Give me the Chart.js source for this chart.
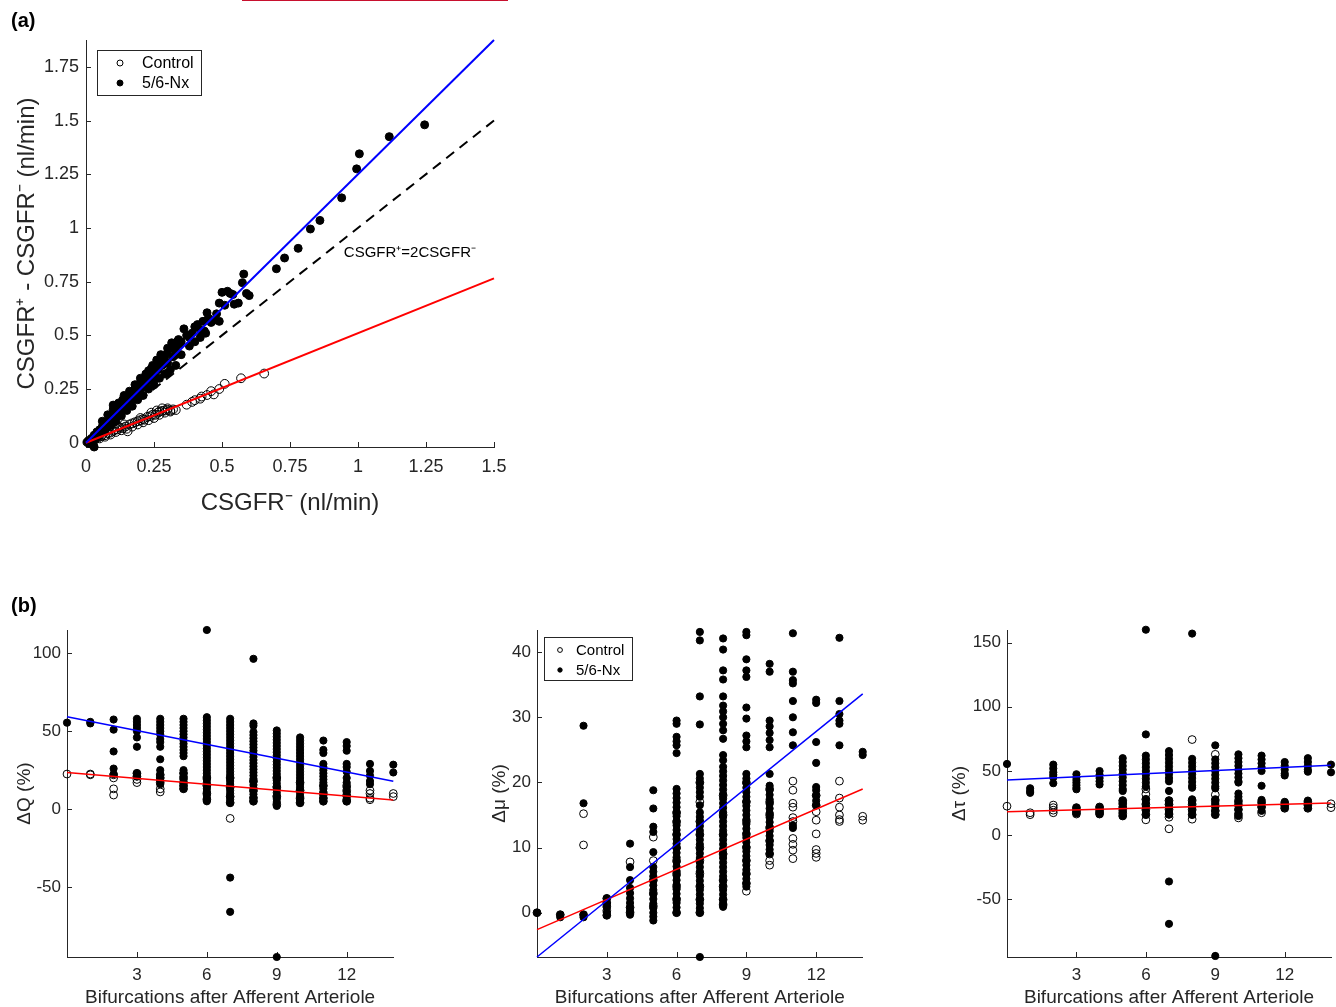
<!DOCTYPE html>
<html lang="en">
<head>
<meta charset="UTF-8" />
<title>CSGFR and bifurcation changes</title>
<script src="https://cdn.jsdelivr.net/npm/chart.js"></script>
<style>
body { margin: 0; background: #fff; font-family: 'Liberation Sans', Arial, sans-serif; }
#fig { position: relative; width: 1336px; height: 1007px; overflow: hidden; }
canvas { position: absolute; }
.tag { position: absolute; font-weight: bold; font-size: 20px; line-height: 20px; color: #000; }
.topline { position: absolute; left: 242px; top: 0; width: 266px; height: 1px; background: #c8102e; }
</style>
</head>
<body>
<div id="fig">
  <div class="topline"></div>
  <canvas id="chart-a" width="520" height="530" style="left:0;top:0"></canvas>
  <canvas id="chart-q" width="420" height="407" style="left:0;top:600px"></canvas>
  <canvas id="chart-mu" width="420" height="407" style="left:470px;top:600px"></canvas>
  <canvas id="chart-tau" width="396" height="407" style="left:940px;top:600px"></canvas>
  <div class="tag" style="left:11px;top:10px">(a)</div>
  <div class="tag" style="left:11px;top:595px">(b)</div>
</div>

<script>
// ---------- panel (a): CSGFR+ - CSGFR- vs CSGFR- ----------
const legendLabels = ['Control', '5/6-Nx'];

const aNx = [
  [0.005,0.003],[0.01,0.01],[0.015,-0.005],[0.02,0.02],[0.025,-0.01],[0.03,-0.02],[0.03,0.035],[0.035,0.02],
  [0.04,0.05],[0.045,0.03],[0.05,0.06],[0.055,0.045],[0.06,0.075],[0.065,0.06],[0.07,0.09],[0.075,0.07],
  [0.08,0.1],[0.085,0.08],[0.09,0.115],[0.095,0.095],[0.1,0.13],[0.1,0.175],[0.105,0.11],[0.11,0.145],
  [0.115,0.125],[0.12,0.16],[0.125,0.14],[0.13,0.175],[0.135,0.2],[0.14,0.165],[0.145,0.19],[0.15,0.215],
  [0.155,0.18],[0.16,0.205],[0.165,0.23],[0.17,0.2],[0.175,0.22],[0.18,0.25],[0.185,0.23],[0.19,0.265],
  [0.195,0.245],[0.2,0.28],[0.205,0.255],[0.21,0.29],[0.215,0.27],[0.22,0.3],[0.225,0.285],[0.23,0.335],
  [0.235,0.3],[0.24,0.32],[0.245,0.36],[0.25,0.33],[0.255,0.35],[0.26,0.37],[0.265,0.34],[0.27,0.385],
  [0.275,0.41],[0.28,0.36],[0.285,0.39],[0.29,0.4],[0.3,0.42],[0.3,0.37],[0.31,0.44],[0.315,0.465],
  [0.32,0.4],[0.3,0.325],[0.26,0.3],[0.33,0.44],[0.335,0.47],[0.345,0.46],[0.35,0.47],[0.36,0.53],
  [0.37,0.5],[0.38,0.49],[0.39,0.51],[0.4,0.54],[0.41,0.55],[0.42,0.525],[0.43,0.565],[0.435,0.52],
  [0.445,0.605],[0.45,0.58],[0.47,0.57],[0.49,0.65],[0.49,0.565],[0.5,0.7],[0.52,0.705],[0.53,0.695],
  [0.545,0.645],[0.56,0.65],[0.575,0.745],[0.58,0.785],[0.59,0.695],[0.6,0.685],[0.7,0.81],[0.73,0.86],
  [0.78,0.905],[0.825,0.995],[0.86,1.035],[0.94,1.14],[0.995,1.275],[1.005,1.345],[1.115,1.425],[1.245,1.48],
  [0.06,0.1],[0.08,0.13],[0.1,0.155],[0.12,0.185],[0.14,0.22],[0.16,0.24],[0.18,0.27],[0.2,0.3],
  [0.22,0.32],[0.24,0.345],[0.26,0.385],[0.28,0.4],[0.3,0.44],[0.32,0.46],[0.34,0.48],[0.33,0.41],
  [0.05,0.04],[0.07,0.06],[0.09,0.08],[0.11,0.1],[0.13,0.125],[0.15,0.15],[0.17,0.17],[0.19,0.2],
  [0.21,0.22],[0.23,0.25],[0.25,0.27],[0.27,0.3],[0.29,0.32],[0.31,0.34],[0.33,0.36],[0.35,0.41],
  [0.38,0.45],[0.4,0.47],[0.42,0.49],[0.44,0.51],[0.46,0.56],[0.48,0.6],[0.51,0.64],[0.54,0.69]
];

const aControl = [
  [0.005,0.002],[0.015,0.008],[0.025,0.012],[0.035,0.02],[0.045,0.024],[0.055,0.03],[0.06,0.037],[0.07,0.035],
  [0.08,0.045],[0.09,0.047],[0.1,0.055],[0.105,0.06],[0.115,0.062],[0.125,0.07],[0.135,0.068],[0.145,0.075],
  [0.153,0.053],[0.16,0.085],[0.17,0.09],[0.18,0.095],[0.19,0.1],[0.2,0.105],[0.21,0.11],[0.215,0.107],
  [0.225,0.12],[0.235,0.123],[0.245,0.13],[0.255,0.13],[0.265,0.14],[0.27,0.145],[0.28,0.148],[0.29,0.15],
  [0.3,0.153],[0.31,0.15],[0.32,0.155],[0.37,0.177],[0.39,0.19],[0.4,0.198],[0.42,0.205],[0.425,0.215],
  [0.445,0.222],[0.46,0.24],[0.47,0.225],[0.49,0.25],[0.51,0.274],[0.57,0.3],[0.655,0.322],
  [0.03,0.01],[0.05,0.02],[0.07,0.028],[0.09,0.038],[0.11,0.05],[0.13,0.058],[0.15,0.065],[0.17,0.075],
  [0.19,0.085],[0.21,0.095],[0.23,0.105],[0.25,0.115],[0.27,0.13],[0.29,0.14],[0.31,0.145],[0.33,0.152],
  [0.12,0.075],[0.14,0.085],[0.2,0.115],[0.24,0.14],[0.26,0.15],[0.28,0.16],[0.3,0.16]
];

const aFitNx = [[0, 0], [1.5, 1.875]];
const aFitControl = [[0, 0], [1.5, 0.765]];
const aIdentity = [[0, 0], [1.5, 1.5]];
const aXTicks = [0, 0.25, 0.5, 0.75, 1, 1.25, 1.5];
const aYTicks = [0, 0.25, 0.5, 0.75, 1, 1.25, 1.5, 1.75];

// ---------- panel (b): changes per bifurcation ----------
const bifurcations = [0, 1, 2, 3, 4, 5, 6, 7, 8, 9, 10, 11, 12, 13, 14];
const bXTicks = [3, 6, 9, 12];

const dQNx = [
  [55.5], [56, 55], [57.5, 51, 37, 26, 22.5],
  [58, 56, 54, 52, 50, 46, 40, 23, 21],
  [58, 56, 54, 52, 50, 48, 45, 43, 40, 32, 25, 22, 20, 18, 16],
  [58, 56, 54, 52, 50, 48, 46, 44, 42, 40, 38, 36, 34, 25, 23, 21, 19, 17, 15, 13],
  [115, 59, 57, 55, 53, 51, 49, 47, 45, 43, 41, 39, 37, 35, 33, 31, 29, 27, 25, 23, 21, 19, 17, 15, 13, 11, 9, 7, 5],
  [58, 56, 54, 52, 50, 48, 46, 44, 42, 40, 38, 36, 34, 32, 30, 28, 26, 24, 22, 20, 18, 16, 14, 12, 10, 8, 6, 4, -44, -66],
  [96.5, 55, 53.5, 49.5, 47.5, 45.5, 43.5, 41.5, 39.5, 37.5, 35.5, 33.5, 31.5, 29.5, 27.5, 25.5, 23.5, 21.5, 19.5, 17.5, 15.5, 13.5, 11.5, 9.5, 7.5, 5],
  [50.5, 48.5, 46.5, 44.5, 42.5, 40.5, 38.5, 36.5, 34.5, 32.5, 30.5, 28.5, 26.5, 24.5, 22.5, 20.5, 18.5, 16.5, 14.5, 12.5, 10.5, 8.5, 6.5, 4.5, 2, -95],
  [46, 44, 42, 40, 38, 36, 34, 32, 30, 28, 26, 24, 22, 20, 18, 16, 14, 12, 10, 8, 6, 4],
  [44, 38, 36, 29, 27, 25, 23, 21, 19, 17, 15, 13, 11, 9, 7, 5],
  [43, 40.5, 37.5, 29, 27, 24, 20, 17, 14, 11, 8, 5],
  [29, 24.5, 21.5, 18, 16],
  [28.5, 23.5]
];
const dQControl = [
  [22.5], [22.5, 22], [22, 20, 13, 9], [23, 21, 19, 17], [22, 20, 17, 13, 11],
  [23, 20, 17, 15, 13], [20, 15, 10, 6], [20, 14, 8, 4, -6], [18, 12, 7, 5],
  [20, 14, 8, 3], [17, 12, 7, 4], [15, 10, 7, 5], [15, 12, 9, 6, 5], [12, 10, 7, 6], [10, 8]
];
const dQFitNx = [[0, 59.3], [14, 17.8]];
const dQFitControl = [[0, 23.5], [14, 5.8]];
const dQYTicks = [-50, 0, 50, 100];

const dMuNx = [
  [0], [-0.3, -0.7], [28.7, 16.8, -0.3, -0.7],
  [2.2, 1.5, 0.8, 0, -0.4],
  [10.6, 7, 5, 3.8, 3, 2.2, 1.5, 0.8, 0.2, -0.3],
  [18.8, 16, 13.2, 12.4, 9.3, 7, 6.3, 5.6, 4.9, 4.2, 3.5, 2.8, 2.1, 1.4, 0.7, 0, -0.6, -1.2],
  [29.5, 29, 27, 26.3, 25.7, 24.5, 19, 18.3, 17.6, 16.9, 16.2, 15.5, 14.8, 14.1, 13.4, 12.7, 12, 11.3, 10.6, 9.9, 9.2, 8.5, 7.8, 7.1, 6.4, 5.7, 5, 4.3, 3.6, 2.9, 2.2, 1.5, 0.8, 0],
  [43.1, 41.8, 33.2, 28.9, 21.3, 20.6, 19.9, 19.2, 18.5, 17.8, 16.5, 15.4, 14.7, 14, 13.3, 12.6, 11.9, 11.2, 10.5, 9.8, 9.1, 8.4, 7.7, 7, 6.3, 5.6, 4.9, 4.2, 3.5, 2.8, 2.1, 1.4, 0.7, 0, -6.8],
  [42.1, 40.4, 37.2, 35.8, 33.2, 31.8, 30.9, 30, 29, 28, 26.7, 24.2, 23.4, 22.4, 21.7, 21, 20.3, 19.6, 18.9, 18.2, 17.5, 16.8, 16.1, 15.4, 14.7, 14, 13.3, 12.6, 11.9, 11.2, 10.5, 9.8, 9.1, 8.4, 7.7, 7, 6.3, 5.6, 4.9, 4.2, 3.5, 2.8, 2.1, 1.4, 0.9],
  [43.1, 42.6, 38.9, 37.2, 36.2, 31.5, 29.8, 27.2, 26.3, 25.4, 21.3, 20.6, 19.9, 19.2, 18.5, 17.8, 17.1, 16.4, 15.7, 15, 14.3, 13.6, 12.9, 12.2, 11.5, 10.8, 10.1, 9.4, 8.7, 8, 7.3, 6.6, 5.9, 5.2, 4.5, 4],
  [38.2, 37, 29.5, 28.6, 27.6, 26.5, 25.4, 21.3, 19.5, 18.8, 18.1, 17.4, 16.7, 16, 15.3, 14.6, 13.9, 13.2, 12.5, 11.8, 11.1, 10.4, 9.7, 9.1],
  [42.9, 37, 35.7, 35.2, 32.5, 30, 27.7, 25.7, 13.4, 13],
  [32.7, 32.2, 26.2, 23, 19.3, 18.8, 18, 17.2, 16.5],
  [42.2, 32.5, 30.5, 29.5, 29, 25.7],
  [24.7, 24.2]
];
const dMuControl = [
  [0], [-0.3], [15.2, 10.4, -0.3], [2.2, 1.5, 1, 0.3, -0.4], [7.8, 0.8, 0],
  [11.6, 8, 5, 3, 1],
  [15.3, 13.9, 12, 10, 8, 6, 4, 2, 0],
  [20, 17, 14, 12, 10, 8, 6, 4, 2, 0],
  [18, 15, 12, 9, 5, 4, 2, 1.2],
  [20, 17, 14, 12, 10, 8, 6, 4.5, 3.3],
  [19, 17, 15, 13, 11, 9, 8, 7.3],
  [20.2, 18.8, 16.8, 16.2, 14.6, 14, 11.4, 10.5, 9.6, 8.3],
  [18, 16.5, 15.5, 14.2, 12.1, 9.7, 9.1, 8.5],
  [20.2, 17.6, 16.2, 15, 14.3, 14],
  [14.8, 14.2]
];
const dMuFitNx = [[0, -6.8], [14, 33.6]];
const dMuFitControl = [[0, -2.6], [14, 19]];
const dMuYTicks = [0, 10, 20, 30, 40];

const dTauNx = [
  [55.5], [36.6, 34.4, 33], [55, 52, 49, 47, 45, 40.5],
  [47.5, 45, 43, 41, 39, 37, 35.8, 21.5, 19, 17],
  [50, 47, 44.5, 42, 39.5, 22, 20, 18, 16.5],
  [60, 57, 54, 51, 48, 45, 42, 39, 36, 34.5, 27, 24, 21, 18, 15],
  [160, 78.5, 62, 59, 56, 53, 50, 47, 44, 41, 38, 28, 25, 22, 19, 16],
  [65.5, 62.5, 59.5, 56.5, 53.5, 50.5, 47.5, 44.5, 42, 34.5, 27, 24, 21, 18, 16, -36, -69],
  [157, 59.5, 56.5, 53.5, 50.5, 47.5, 44.5, 41.5, 38.5, 37, 28, 25, 22, 19, 16],
  [70, 59, 56, 53, 50, 47, 44, 41, 38, 36.5, 28, 25, 22, 19, 16, -94],
  [63, 60, 57, 54, 51, 48, 45, 42, 41, 32.5, 30, 26, 23, 20, 17, 15],
  [62, 59, 56, 53, 50, 38.5, 27.5, 25, 22, 19],
  [57, 54, 51, 48, 46.5, 26, 23.5, 21],
  [60, 57, 54, 51, 49.5, 27, 24, 21],
  [55, 49]
];
const dTauControl = [
  [22.6], [17.5, 16], [23.5, 21.5, 19.5, 17.5], [21.5, 19.5, 18, 16.5], [22, 20, 18, 16.5],
  [27, 25, 22, 19.5, 17, 15], [36, 32, 28, 24, 20, 16, 12], [27, 24, 20, 16.5, 14, 5],
  [74.5, 27, 24, 20, 16, 12.5], [63, 31.5, 27, 23, 19, 16], [27, 24, 20, 16, 13.5],
  [26, 22, 17.5], [25, 23, 21], [26, 23.5, 21], [24.5, 21.5]
];
const dTauFitNx = [[0, 43.1], [14, 54.5]];
const dTauFitControl = [[0, 18.2], [14, 25.2]];
const dTauYTicks = [-50, 0, 50, 100, 150];

// ---------- helpers ----------
Chart.defaults.font.family = "'Liberation Sans', Arial, sans-serif";
const AXIS = '#262626';

const pairs = arr => arr.map(([x, y]) => ({ x, y }));
function columnPoints(cols) {
  const pts = [];
  cols.forEach((vals, i) => vals.forEach(v => pts.push({ x: bifurcations[i], y: v })));
  return pts;
}

function openDots(data, r, order) {
  return { data, showLine: false, clip: false, order, pointRadius: r, pointBorderWidth: 1,
           pointBorderColor: '#000', pointBackgroundColor: 'rgba(0,0,0,0)' };
}
function filledDots(data, r, order) {
  return { data, showLine: false, clip: false, order, pointRadius: r, pointBorderWidth: 1,
           pointBorderColor: '#000', pointBackgroundColor: '#000' };
}
function fitLine(data, color, width, dash) {
  return { data, showLine: true, pointRadius: 0, borderColor: color, borderWidth: width,
           borderDash: dash || [], order: dash ? 5 : 0, clip: false };
}

function axis(min, max, tickVals, o) {
  return {
    type: 'linear', min, max,
    grid: { display: false, drawTicks: false },
    border: { display: true, color: AXIS, width: 1 },
    afterBuildTicks: s => { s.ticks = tickVals.map(v => ({ value: v })); },
    afterFit: s => { if (o.width) s.width = o.width; if (o.height) s.height = o.height; },
    ticks: { color: AXIS, font: { size: o.tickSize }, padding: o.tickPad, callback: v => String(v) },
    title: { display: true, text: o.title, color: AXIS,
             font: { size: o.titleSize, lineHeight: o.titleLH || 1.2 }, padding: o.titlePad }
  };
}

// inward tick marks, MATLAB style
const inwardTicks = {
  id: 'inwardTicks',
  beforeDatasetsDraw(chart) {
    const ctx = chart.ctx, a = chart.chartArea, len = 5;
    const xs = chart.scales.x, ys = chart.scales.y;
    ctx.save();
    ctx.strokeStyle = AXIS;
    ctx.lineWidth = 1;
    ctx.beginPath();
    xs.ticks.forEach(t => {
      const p = Math.round(xs.getPixelForValue(t.value)) + 0.5;
      ctx.moveTo(p, a.bottom); ctx.lineTo(p, a.bottom - len);
    });
    ys.ticks.forEach(t => {
      const p = Math.round(ys.getPixelForValue(t.value)) + 0.5;
      ctx.moveTo(a.left, p); ctx.lineTo(a.left + len, p);
    });
    ctx.stroke();
    ctx.restore();
  }
};

// boxed legend at a fixed spot
const boxLegend = {
  id: 'boxLegend',
  afterDraw(chart, args, o) {
    if (!o.items) return;
    const ctx = chart.ctx;
    ctx.save();
    ctx.fillStyle = '#fff';
    ctx.fillRect(o.x, o.y, o.w, o.h);
    ctx.strokeStyle = AXIS;
    ctx.lineWidth = 1;
    ctx.strokeRect(o.x + 0.5, o.y + 0.5, o.w, o.h);
    ctx.font = o.font;
    ctx.textBaseline = 'middle';
    o.items.forEach((it, i) => {
      const y = o.y + o.rowTop + i * o.rowGap;
      ctx.beginPath();
      ctx.arc(o.x + o.markX, y, it.r, 0, 2 * Math.PI);
      ctx.fillStyle = it.filled ? '#000' : '#fff';
      ctx.fill();
      ctx.strokeStyle = '#000';
      ctx.stroke();
      ctx.fillStyle = '#000';
      ctx.fillText(it.label, o.x + o.textX, y + 1);
    });
    ctx.restore();
  }
};

// text placed in data coordinates
const noteText = {
  id: 'noteText',
  afterDatasetsDraw(chart, args, o) {
    if (!o.text) return;
    const ctx = chart.ctx;
    ctx.save();
    ctx.font = o.font;
    ctx.fillStyle = '#000';
    ctx.textBaseline = 'middle';
    ctx.fillText(o.text, chart.scales.x.getPixelForValue(o.x), chart.scales.y.getPixelForValue(o.y));
    ctx.restore();
  }
};

function makeChart(id, datasets, scales, padding, plugOpts) {
  return new Chart(document.getElementById(id), {
    type: 'scatter',
    data: { datasets },
    options: {
      responsive: false, animation: false, devicePixelRatio: 1, events: [],
      layout: { padding },
      scales,
      plugins: Object.assign({ legend: { display: false }, tooltip: { enabled: false } }, plugOpts)
    },
    plugins: [inwardTicks, boxLegend, noteText]
  });
}

// ---------- panel (a) ----------
makeChart('chart-a', [
  fitLine(pairs(aFitNx), '#0000ff', 2),
  fitLine(pairs(aFitControl), '#ff0000', 2),
  filledDots(pairs(aNx), 4, 1),
  openDots(pairs(aControl), 4.4, 2),
  fitLine(pairs(aIdentity), '#000', 2, [10, 7])
], {
  x: axis(0, 1.5, aXTicks, { height: 83, tickSize: 18, tickPad: 9.5,
       title: 'CSGFR⁻ (nl/min)', titleSize: 24, titlePad: { top: 0, bottom: 12.6 } }),
  y: axis(-0.02, 1.875, aYTicks, { width: 86, tickSize: 18, tickPad: 7,
       title: 'CSGFR⁺ - CSGFR⁻ (nl/min)', titleSize: 24, titlePad: { top: 12.6, bottom: 0 } })
}, { top: 40, right: 26, left: 0, bottom: 0 }, {
  boxLegend: { x: 97, y: 50, w: 104, h: 45, rowTop: 13, rowGap: 20, markX: 23, textX: 45,
               font: '16px "Liberation Sans", Arial, sans-serif',
               items: [{ label: legendLabels[0], filled: false, r: 3 }, { label: legendLabels[1], filled: true, r: 3 }] },
  noteText: { text: 'CSGFR⁺=2CSGFR⁻', x: 0.948, y: 0.884, font: '15px "Liberation Sans", Arial, sans-serif' }
});

// ---------- panel (b) ----------
const bottomTitle = 'Bifurcations after Afferent Arteriole';
function bPanel(id, nx, ctl, fitNx, fitCtl, ymin, ymax, yTicks, yTitle, yTitlePad, padRight, legend) {
  makeChart(id, [
    fitLine(pairs(fitNx), '#0000ff', 1.5),
    fitLine(pairs(fitCtl), '#ff0000', 1.5),
    filledDots(columnPoints(nx), 3.6, 1),
    openDots(columnPoints(ctl), 3.9, 2)
  ], {
    x: axis(0, 14, bXTicks, { height: 50, tickSize: 17, tickPad: 7.8,
         title: bottomTitle, titleSize: 19, titleLH: 1, titlePad: { top: 0, bottom: 0 } }),
    y: axis(ymin, ymax, yTicks, { width: 67, tickSize: 17, tickPad: 6,
         title: yTitle, titleSize: 19, titleLH: 1, titlePad: { top: yTitlePad, bottom: 0 } })
  }, { top: 30, right: padRight, left: 0, bottom: 0 }, { boxLegend: legend || {} });
}

bPanel('chart-q', dQNx, dQControl, dQFitNx, dQFitControl, -95, 115, dQYTicks, 'ΔQ (%)', 15, 26.7);
bPanel('chart-mu', dMuNx, dMuControl, dMuFitNx, dMuFitControl, -6.8, 43.4, dMuYTicks, 'Δμ (%)', 20.5, 27.3, {
  x: 74, y: 37, w: 88, h: 43, rowTop: 13, rowGap: 20, markX: 16, textX: 32,
  font: '15px "Liberation Sans", Arial, sans-serif',
  items: [{ label: legendLabels[0], filled: false, r: 2.4 }, { label: legendLabels[1], filled: true, r: 2.2 }]
});
bPanel('chart-tau', dTauNx, dTauControl, dTauFitNx, dTauFitControl, -94.8, 159.8, dTauYTicks, 'Δτ (%)', 10.5, 2.7);
</script>
</body>
</html>
